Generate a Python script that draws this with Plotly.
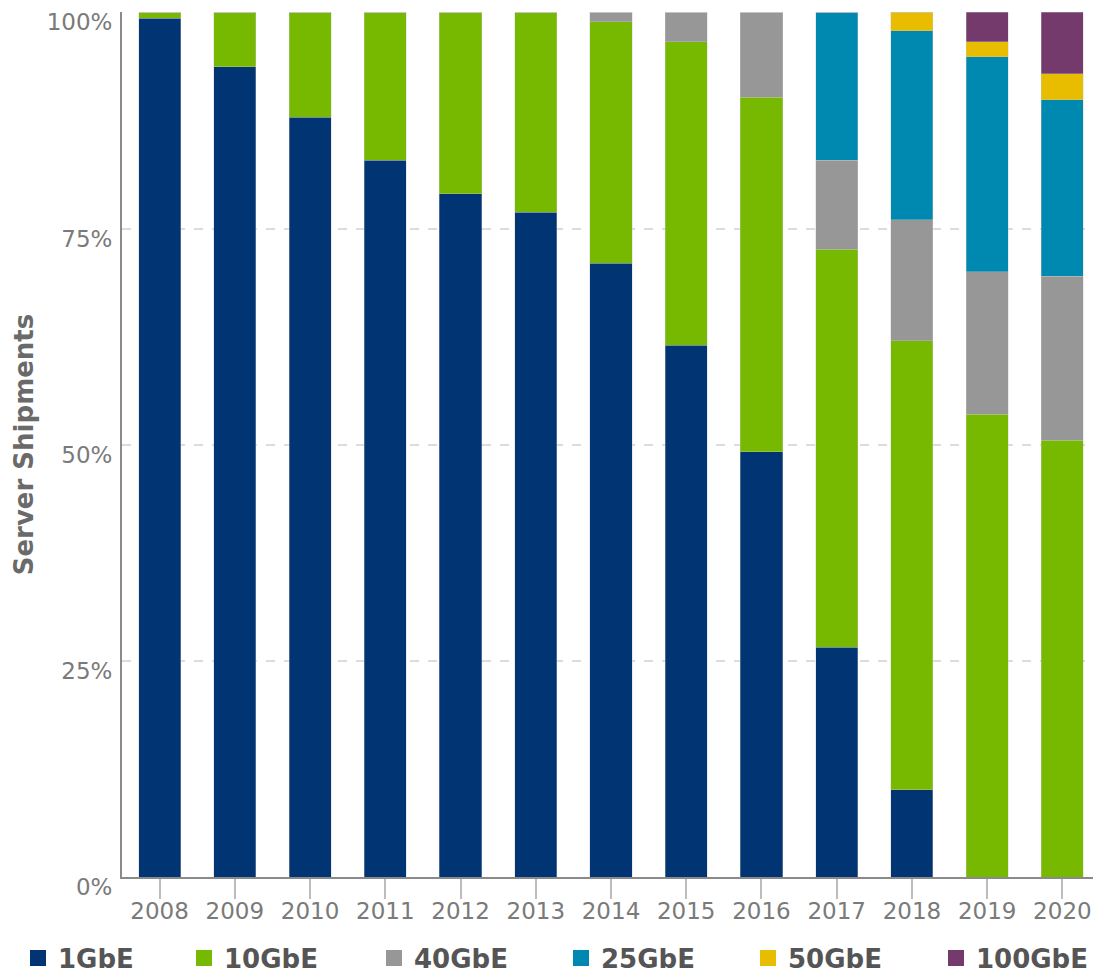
import plotly.graph_objects as go

years = ["2008", "2009", "2010", "2011", "2012", "2013", "2014",
         "2015", "2016", "2017", "2018", "2019", "2020"]
series_names = ["1GbE", "10GbE", "40GbE", "25GbE", "50GbE", "100GbE"]
gbe1 = [99.3, 93.7, 87.9, 82.9, 79.0, 76.9, 71.0, 61.5, 49.2, 26.6, 10.1, 0.0, 0.0]
gbe10 = [0.7, 6.3, 12.1, 17.1, 21.0, 23.1, 27.9, 35.1, 41.0, 46.0, 51.9, 53.5, 50.5]
gbe40 = [0.0, 0.0, 0.0, 0.0, 0.0, 0.0, 1.1, 3.4, 9.8, 10.3, 14.0, 16.5, 19.0]
gbe25 = [0.0, 0.0, 0.0, 0.0, 0.0, 0.0, 0.0, 0.0, 0.0, 17.1, 21.9, 24.9, 20.4]
gbe50 = [0.0, 0.0, 0.0, 0.0, 0.0, 0.0, 0.0, 0.0, 0.0, 0.0, 2.1, 1.7, 3.0]
gbe100 = [0.0, 0.0, 0.0, 0.0, 0.0, 0.0, 0.0, 0.0, 0.0, 0.0, 0.0, 3.4, 7.1]
y_ticks = [0, 25, 50, 75, 100]
y_tick_labels = ["0%", "25%", "50%", "75%", "100%"]

colors = ["#003473", "#76b900", "#979797", "#0089b0", "#e8bd00", "#733a6b"]
values = [gbe1, gbe10, gbe40, gbe25, gbe50, gbe100]

# the page body has an 8px margin, so the figure is sized to fit the window
FIG_W, FIG_H = 1093, 966
legend_x_px = [10, 176, 366, 553, 740, 928]
legend_y_px = 950

fig = go.Figure()
for name, vals, col in zip(series_names, values, colors):
    fig.add_trace(go.Bar(
        x=years, y=vals, name=name, showlegend=False,
        marker=dict(color=col, line=dict(color="rgba(200,200,200,0.6)", width=0.6)),
        width=0.56,
    ))

legend_cfg = {}
for i, (name, col, lx) in enumerate(zip(series_names, colors, legend_x_px)):
    key = "legend" if i == 0 else f"legend{i + 1}"
    fig.add_trace(go.Scatter(
        x=[None], y=[None], mode="markers", name=name, legend=key,
        marker=dict(symbol="square", size=17, color=col),
    ))
    legend_cfg[key] = dict(
        orientation="h", xref="container", yref="container",
        x=lx / FIG_W, xanchor="left", y=1 - legend_y_px / FIG_H, yanchor="middle",
        font=dict(size=26, color="#555555", family="DejaVu Sans", weight="bold"),
        bgcolor="rgba(0,0,0,0)",
    )

fig.update_layout(
    barmode="stack",
    width=FIG_W, height=FIG_H,
    margin=dict(l=114, r=1, t=3.5, b=96.5),
    paper_bgcolor="white", plot_bgcolor="white",
    font=dict(family="DejaVu Sans", color="#7a7a7a"),
    **legend_cfg,
)
fig.update_xaxes(
    type="category", range=[-0.5, 12.5], automargin=False,
    showline=True, linecolor="#8a8a8a", linewidth=2,
    ticks="outside", ticklen=20, tickcolor="#bdbdbd", tickwidth=1.5,
    tickfont=dict(size=23, color="#7a7a7a"), ticklabelstandoff=-8,
    showgrid=False,
)
fig.update_yaxes(
    range=[0, 100.05], tickvals=y_ticks, ticktext=y_tick_labels, automargin=False,
    showline=True, linecolor="#8a8a8a", linewidth=2,
    showgrid=True, gridcolor="#dcdcdc", griddash="dash", gridwidth=2,
    tickfont=dict(size=23, color="#7a7a7a"),
    ticks="", zeroline=False, ticklabelstandoff=3, ticklabelshift=10,
    title=dict(text="Server Shipments", standoff=6,
               font=dict(size=26, color="#6a6a6a", family="DejaVu Sans", weight="bold")),
)
fig.write_html("out.html")
